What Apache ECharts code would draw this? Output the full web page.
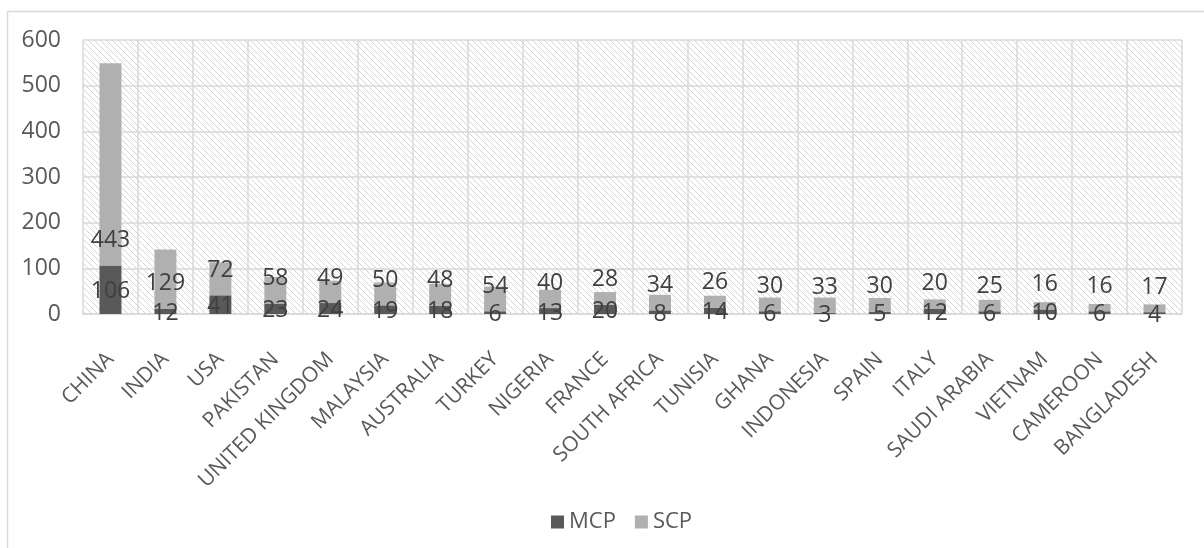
<!DOCTYPE html>
<html>
<head>
<meta charset="utf-8">
<style>
  html, body { margin: 0; padding: 0; background: #ffffff; }
  #chart { width: 1204px; height: 548px; }
</style>
<script src="https://cdn.jsdelivr.net/npm/echarts@6/dist/echarts.min.js"></script>
</head>
<body>
<div id="chart"></div>
<script>
// Publications per country, split into multi-country (MCP) and single-country (SCP) papers
const countries = [
  'CHINA', 'INDIA', 'USA', 'PAKISTAN', 'UNITED KINGDOM', 'MALAYSIA', 'AUSTRALIA',
  'TURKEY', 'NIGERIA', 'FRANCE', 'SOUTH AFRICA', 'TUNISIA', 'GHANA', 'INDONESIA',
  'SPAIN', 'ITALY', 'SAUDI ARABIA', 'VIETNAM', 'CAMEROON', 'BANGLADESH'
];
const mcp = [106, 12, 41, 23, 24, 19, 18, 6, 13, 20, 8, 14, 6, 3, 5, 12, 6, 10, 6, 4];
const scp = [443, 129, 72, 58, 49, 50, 48, 54, 40, 28, 34, 26, 30, 33, 30, 20, 25, 16, 16, 17];
const yTicks = { min: 0, max: 600, step: 100 };

const FONT = '"Open Sans", sans-serif';
const TEXT = '#595959';
const GRID_LINE = '#d9d9d9';

// Diagonal hatch used as the plot-area fill
function hatchPattern() {
  const p = 6;
  const c = document.createElement('canvas');
  c.width = p; c.height = p;
  const ctx = c.getContext('2d');
  ctx.fillStyle = '#ffffff';
  ctx.fillRect(0, 0, p, p);
  ctx.strokeStyle = '#d6d6d6';
  ctx.lineWidth = 1;
  for (const k of [-p, 0, p]) {
    ctx.beginPath();
    ctx.moveTo(k, 0);
    ctx.lineTo(k + p, p);
    ctx.stroke();
  }
  return c;
}

const chart = echarts.init(document.getElementById('chart'), null, { renderer: 'canvas' });

chart.setOption({
  backgroundColor: '#ffffff',
  animation: false,
  textStyle: { fontFamily: FONT },
  graphic: [
    { type: 'line', silent: true, shape: { x1: 7.5, y1: 11.5, x2: 7.5, y2: 560 },
      style: { stroke: GRID_LINE, lineWidth: 1.5 } },
    { type: 'line', silent: true, shape: { x1: 7.5, y1: 11.5, x2: 1220, y2: 11.5 },
      style: { stroke: GRID_LINE, lineWidth: 1.5 } }
  ],
  grid: {
    left: 83, right: 22, top: 40, bottom: 234,
    show: true,
    borderWidth: 0,
    backgroundColor: { image: hatchPattern(), repeat: 'repeat' }
  },
  legend: {
    data: ['MCP', 'SCP'],
    left: 546, top: 506,
    icon: 'rect',
    itemWidth: 13, itemHeight: 13, itemGap: 19,
    textStyle: { color: TEXT, fontSize: 22, fontFamily: FONT }
  },
  xAxis: {
    type: 'category',
    data: countries,
    axisLine: { show: true, lineStyle: { color: GRID_LINE, width: 1.5 } },
    axisTick: { show: false },
    splitLine: { show: true, interval: 0, lineStyle: { color: GRID_LINE, width: 1.5 } },
    axisLabel: {
      interval: 0, rotate: 45, margin: 42,
      color: TEXT, fontSize: 21, fontFamily: FONT
    }
  },
  yAxis: {
    type: 'value',
    min: yTicks.min, max: yTicks.max, interval: yTicks.step,
    axisLine: { show: false },
    axisTick: { show: false },
    splitLine: { lineStyle: { color: GRID_LINE, width: 1.5 } },
    axisLabel: { color: TEXT, fontSize: 23, fontFamily: FONT, margin: 22 }
  },
  series: [
    {
      name: 'MCP', type: 'bar', stack: 'total',
      data: mcp,
      barWidth: '40%',
      itemStyle: { color: '#595959' },
      label: {
        show: true, position: 'inside', offset: [0, 2],
        color: '#404040', fontSize: 23, fontFamily: FONT
      }
    },
    {
      name: 'SCP', type: 'bar', stack: 'total',
      data: scp,
      barWidth: '40%',
      itemStyle: { color: '#b0b0b0' },
      label: {
        show: true, position: 'insideBottom', distance: 25, verticalAlign: 'middle',
        color: '#404040', fontSize: 23, fontFamily: FONT
      }
    }
  ]
});
</script>
</body>
</html>
